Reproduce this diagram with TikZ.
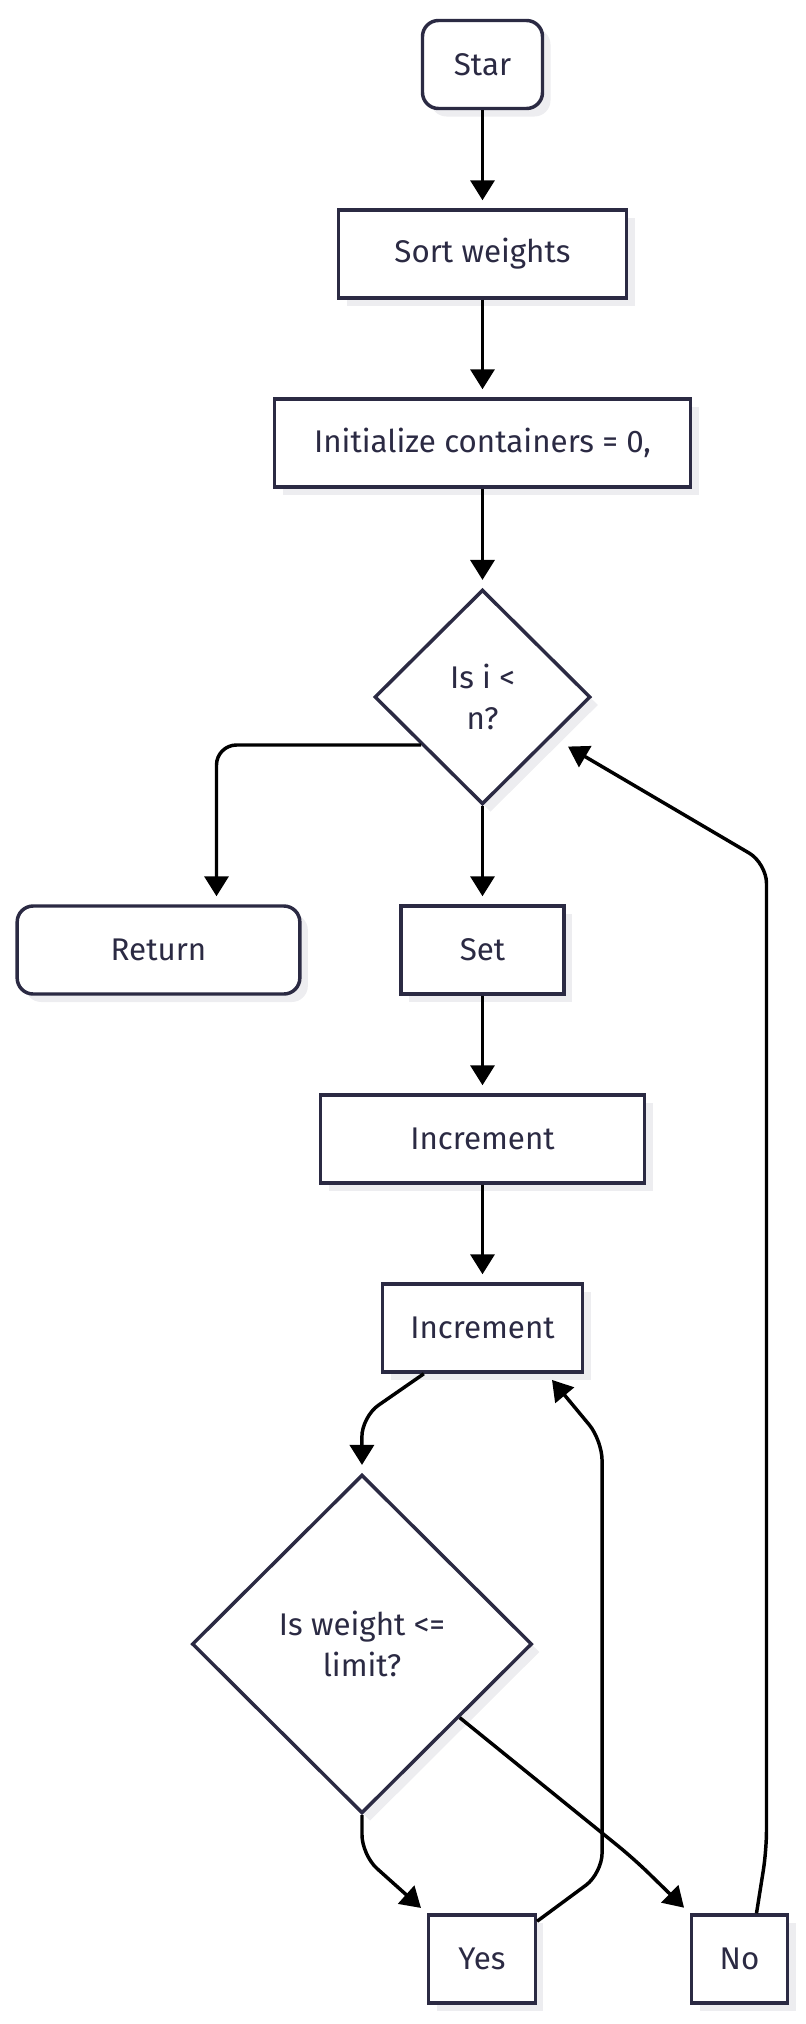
\documentclass[tikz,border=0pt]{standalone}
\usepackage{fontspec}
\setmainfont{Fira Sans}
\usetikzlibrary{shapes.geometric,arrows.meta,shadows}
\definecolor{ink}{HTML}{2B2A43}
\definecolor{shade}{HTML}{EDEDF0}

\begin{document}
\begin{tikzpicture}[x=0.75pt,y=-0.75pt,line width=2.6pt,
  box/.style={draw=ink,fill=white,text=ink,inner sep=0pt,minimum height=66pt,
    font=\fontsize{23.5pt}{31pt}\selectfont,
    drop shadow={shadow xshift=6pt,shadow yshift=-6pt,fill=shade,opacity=1}},
  term/.style={box,rounded corners=12pt},
  decide/.style={box,diamond,align=center,shape aspect=1},
  flow/.style={-{Triangle[length=15pt,width=18pt]},shorten >=6pt,rounded corners=15pt}]

\useasboundingbox (0,0) rectangle (806,2024);

\node [term,minimum width=90pt] (star) at (482.5,64.5) {Star};
\node [box,minimum width=216pt] (sort) at (482.5,254) {Sort weights};
\node [box,minimum width=312pt] (init) at (482.5,443) {Initialize containers = 0,};
\node [decide,minimum width=162pt,minimum height=161pt] (dec1) at (482.5,697) {Is i <\\n?};
\node [term,minimum width=212pt] (ret) at (158.5,950) {Return};
\node [box,minimum width=122pt] (set) at (482.5,950) {Set};
\node [box,minimum width=243pt] (inc1) at (482.5,1139) {Increment};
\node [box,minimum width=150pt] (inc2) at (482.5,1328) {Increment};
\node [decide,minimum width=255pt,minimum height=254pt] (dec2) at (362,1644) {Is weight <=\\limit?};
\node [box,minimum width=80pt] (yes) at (482,1959) {Yes};
\node [box,minimum width=72pt] (no) at (739.5,1959) {No};

\draw [flow] (star) -- (sort);
\draw [flow] (sort) -- (init);
\draw [flow] (init) -- (dec1);
\draw [flow] (dec1.218) -| ([xshift=43.5pt]ret.north);
\draw [flow] (dec1) -- (set);
\draw [flow] (set) -- (inc1);
\draw [flow] (inc1) -- (inc2);
\draw [flow] ([xshift=-44pt]inc2.south) -- ++(-62,43) -- (dec2.north);
\draw [flow] (dec2.south) -- ++(0,40) -- (yes.north west);
\draw [flow] ([yshift=-6pt]yes.north east) -- ++(65,-48) -- ++(0,-433) -- ([xshift=-28pt]inc2.south east);
\draw [flow] (dec2.-37) -- ++(174,141) -- (no.north west);
\draw [flow,shorten >=14pt] ([xshift=12.75pt]no.north) -- ++(10,-63) -- ++(0,-987) -- (dec1.-30);

\end{tikzpicture}
\end{document}
